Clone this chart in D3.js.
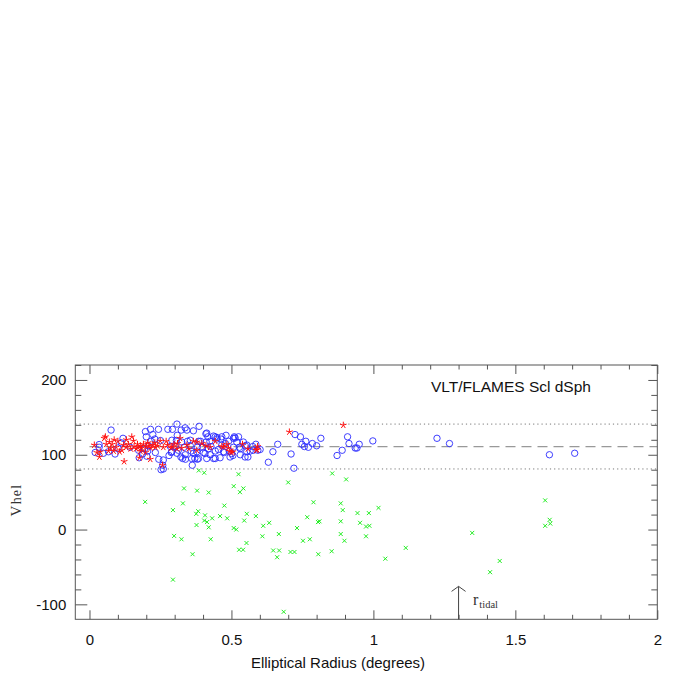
<!DOCTYPE html>
<html><head><meta charset="utf-8">
<script src="https://cdn.jsdelivr.net/npm/d3@7/dist/d3.min.js"></script>
<style>body{margin:0;background:#fff}svg{display:block}</style>
</head><body>
<script>
// ---------- data ----------
const xMajorTicks = [0, 0.5, 1, 1.5, 2];
const xTickLabels = ["0", "0.5", "1", "1.5", "2"];
const yMajorTicks = [-100, 0, 100, 200];
const yTickLabels = ["-100", "0", "100", "200"];
const dottedLevels = [141, 81];
const dashedLevel = [111];
const tidalRadius = [1.3];

const blueR = [0.076,0.02,0.034,0.049,0.067,0.09,0.118,0.1,0.112,0.143,0.175,0.197,0.2,0.215,0.223,0.243,0.23,0.25,0.217,0.208,0.205,0.232,0.244,0.26,0.258,0.252,0.28,0.276,0.292,0.308,0.323,0.309,0.306,0.302,0.285,0.288,0.308,0.322,0.338,0.333,0.345,0.355,0.358,0.366,0.371,0.38,0.38,0.391,0.397,0.401,0.413,0.417,0.411,0.424,0.428,0.443,0.443,0.449,0.463,0.466,0.479,0.49,0.492,0.507,0.519,0.507,0.525,0.528,0.542,0.549,0.558,0.554,0.566,0.575,0.586,0.593,0.26,0.202,0.187,0.194,0.173,0.343,0.366,0.386,0.425,0.46,0.475,0.505,0.531,0.337,0.362,0.495,0.437,0.413,0.328,0.034,0.437,0.466,0.51,0.41,
  0.443,0.449,0.481,0.513,0.355,0.384,0.419,0.454,0.554,0.577,0.548,0.384,0.36,0.337,0.313,0.29,0.378,0.407,0.472,0.501,0.531,0.325,0.29,
  0.601,0.646,0.663,0.63,0.71,0.72,0.724,0.743,0.762,0.748,0.757,0.771,0.785,0.8,0.815,0.872,0.89,0.909,0.914,0.936,0.942,0.95,0.998,1.224,1.268,1.62,1.709];
const blueV = [133,103,110,102,104,101,122,109,116,110,96,131,124,134,127,134,121,119,118,112,105,103,94,93,86,80,99,134,134,141,133,126,119,111,111,103,102,97,94,110,118,112,105,102,95,94,110,118,110,103,129,124,117,118,111,105,95,123,121,113,115,118,105,110,117,122,124,110,117,112,97,104,105,111,114,106,81,98,101,108,106,133,132,138,100,96,103,99,100,136,86,97,95,95,95,113.6,125,124,124,128,
  124,121,126,122.5,119.4,118,108,107,113,106,97,95,95,100,106,104,104,101.6,104,101.6,108,117,119.4,
  107,104,114,90,101,82,127,124,118,114,111,110,115,112,122,99,106,124,115,109,109,114,118.5,122,115,100,102];

const redR = [0.017,0.026,0.035,0.052,0.059,0.056,0.07,0.075,0.067,0.08,0.085,0.087,0.094,0.106,0.114,0.12,0.122,0.129,0.137,0.149,0.155,0.157,0.164,0.169,0.179,0.184,0.19,0.2,0.21,0.216,0.223,0.232,0.24,0.176,0.214,0.249,0.26,0.275,0.287,0.298,0.319,0.325,0.343,0.366,0.378,0.396,0.425,0.443,0.466,0.484,0.489,0.505,0.539,0.558,0.587,0.179,0.197,0.038,0.257,0.59,0.704,0.894,0.592,0.5,0.1,0.13,0.145,0.17,0.205,0.23,0.27,0.31,0.35,0.41,0.378,0.472,0.495,0.29,0.308];
const redV = [113,103,97,122,114,124,117,109,105,114,105,120,110,104,106,113,91,110,114,124,118.5,111,108,114,112,109,114,111,112,109,113,110,112,96,94,118.5,110,113,109,114,122,109,113,118,106,115,110,118,111,114,109,104,114,108,106,105,103,104,86,107,130.5,139.5,111,103,118,120,108,110,116,116,118,115,108,112,117,110.6,104.7,110.6,108];

const greenR = [0.196,0.294,0.329,0.333,0.379,0.42,0.385,0.404,0.376,0.383,0.377,0.407,0.404,0.414,0.42,0.432,0.298,0.324,0.427,0.363,0.294,0.46,0.475,0.485,0.508,0.53,0.542,0.525,0.508,0.517,0.545,0.554,0.586,0.553,0.527,0.541,0.609,0.612,0.633,0.667,0.647,0.668,0.661,0.7,0.731,0.708,0.722,0.767,0.789,0.805,0.81,0.752,0.776,0.806,0.853,0.855,0.904,0.885,0.892,0.885,0.885,0.898,0.684,0.944,0.953,0.974,0.986,0.984,0.974,1.018,1.042,1.114,1.348,1.411,1.445,1.605,1.605,1.621,1.623];
const greenV = [37,26,35,55,52,49.5,79,76,21,24.5,6,19,12,10,3,15,-8.5,-13,-13,-33,-67,18,32,15,58,50,55,74,2,0,12,21,18,-18,-27,-27,-9,5,9,-6,-28,-28,-37,63,2,-30,-30,16.5,36.5,10,11,-15,-13,-33,-29,75,67,35,26,11,-6,-15,-110,22,9,4,5,22,-9,29,-39,-24.5,-4.5,-57,-42,39,5,13,8];

// ---------- layout ----------
const W = 694, H = 694;
const L = 75.3, R = 657.3, T = 365, B = 619.3;
const svg = d3.select("body").append("svg").attr("width", W).attr("height", H);
const x = d3.scaleLinear().domain([-0.05, 2.0]).range([L, R]);
const y = d3.scaleLinear().domain([-120, 220]).range([B, T]);
const frameCol = "#555";
const font = "'Liberation Sans', Arial, Helvetica, sans-serif";
const serif = "'Liberation Serif', 'DejaVu Serif', Times, serif";

// reference lines
const g = svg.append("g");
g.selectAll("line.dot").data(dottedLevels).join("line")
  .attr("x1", L).attr("x2", R).attr("y1", d => y(d)).attr("y2", d => y(d))
  .attr("stroke", "#777").attr("stroke-width", 1).attr("stroke-dasharray", "1.2,3");
g.selectAll("line.dash").data(dashedLevel).join("line")
  .attr("x1", x(0)).attr("x2", R).attr("y1", d => y(d)).attr("y2", d => y(d))
  .attr("stroke", "#999").attr("stroke-width", 1.2).attr("stroke-dasharray", "10,6");

// points
const blue = blueR.map((r, i) => ({r, v: blueV[i]}));
const red = redR.map((r, i) => ({r, v: redV[i]}));
const green = greenR.map((r, i) => ({r, v: greenV[i]}));

svg.append("g").selectAll("circle").data(blue).join("circle")
  .attr("cx", d => x(d.r)).attr("cy", d => y(d.v)).attr("r", 3.2)
  .attr("fill", "none").attr("stroke", "#2a2aff").attr("stroke-width", 0.9);

const star = (s) => {
  let p = "";
  for (let k = 0; k < 5; k++) {
    const a = -Math.PI / 2 + k * 2 * Math.PI / 5;
    p += `M0,0L${(s * Math.cos(a)).toFixed(2)},${(s * Math.sin(a)).toFixed(2)}`;
  }
  return p;
};
svg.append("g").selectAll("path").data(red).join("path")
  .attr("transform", d => `translate(${x(d.r)},${y(d.v)})`)
  .attr("d", star(3.5)).attr("fill", "none").attr("stroke", "#ff1010").attr("stroke-width", 1);

svg.append("g").selectAll("path").data(green).join("path")
  .attr("transform", d => `translate(${x(d.r)},${y(d.v)})`)
  .attr("d", "M-2,-2L2,2M-2,2L2,-2").attr("fill", "none").attr("stroke", "#22ee22").attr("stroke-width", 1);

// frame
svg.append("rect").attr("x", L).attr("y", T).attr("width", R - L).attr("height", B - T)
  .attr("fill", "none").attr("stroke", frameCol).attr("stroke-width", 1);

// axes
const xMinor = d3.range(0, 2.0001, 0.1).map(v => +v.toFixed(2)).filter(v => !xMajorTicks.includes(v));
const yMinor = d3.range(-100, 220.1, 20).filter(v => !yMajorTicks.includes(v));
function styleAxis(sel) {
  sel.select(".domain").remove();
  sel.selectAll("line").attr("stroke", frameCol);
  sel.selectAll("text").attr("font-family", font).attr("font-size", 15).attr("fill", "#111");
}
svg.append("g").attr("transform", `translate(0,${B})`)
  .call(d3.axisBottom(x).tickValues(xMajorTicks).tickSize(-9).tickPadding(15).tickFormat((d, i) => xTickLabels[i])).call(styleAxis);
svg.append("g").attr("transform", `translate(0,${B})`)
  .call(d3.axisBottom(x).tickValues(xMinor).tickSize(-4.5).tickFormat("")).call(styleAxis);
svg.append("g").attr("transform", `translate(0,${T})`)
  .call(d3.axisTop(x).tickValues(xMajorTicks).tickSize(-9).tickFormat("")).call(styleAxis);
svg.append("g").attr("transform", `translate(0,${T})`)
  .call(d3.axisTop(x).tickValues(xMinor).tickSize(-4.5).tickFormat("")).call(styleAxis);
svg.append("g").attr("transform", `translate(${L},0)`)
  .call(d3.axisLeft(y).tickValues(yMajorTicks).tickSize(-12).tickPadding(9).tickFormat((d, i) => yTickLabels[i])).call(styleAxis);
svg.append("g").attr("transform", `translate(${L},0)`)
  .call(d3.axisLeft(y).tickValues(yMinor).tickSize(-6).tickFormat("")).call(styleAxis);
svg.append("g").attr("transform", `translate(${R},0)`)
  .call(d3.axisRight(y).tickValues(yMajorTicks).tickSize(-9).tickFormat("")).call(styleAxis);
svg.append("g").attr("transform", `translate(${R},0)`)
  .call(d3.axisRight(y).tickValues(yMinor).tickSize(-6).tickFormat("")).call(styleAxis);

// titles
svg.append("text").attr("x", 338).attr("y", 668).attr("text-anchor", "middle")
  .attr("font-family", font).attr("font-size", 15).attr("fill", "#111").text("Elliptical Radius (degrees)");
const yl = svg.append("text").attr("transform", "translate(21,500) rotate(-90)").attr("text-anchor", "middle")
  .attr("font-family", serif).attr("font-size", 15).attr("fill", "#333").attr("letter-spacing", 1.2);
yl.append("tspan").text("V");
yl.append("tspan").attr("font-size", 14).text("hel");
svg.append("text").attr("x", 431).attr("y", 392)
  .attr("font-family", font).attr("font-size", 15.5).attr("fill", "#111").text("VLT/FLAMES Scl dSph");

// tidal radius arrow
const tx = x(tidalRadius[0]);
const tipY = y(-76);
svg.append("line").attr("x1", tx).attr("x2", tx).attr("y1", B).attr("y2", tipY).attr("stroke", "#444").attr("stroke-width", 1);
svg.append("path").attr("d", `M${tx - 7},${tipY + 5}L${tx},${tipY}L${tx + 7},${tipY + 5}`)
  .attr("fill", "none").attr("stroke", "#444").attr("stroke-width", 1);
const rt = svg.append("text").attr("x", 473).attr("y", 605).attr("font-family", serif).attr("fill", "#333");
rt.append("tspan").attr("font-size", 16).text("r");
rt.append("tspan").attr("font-size", 10.5).attr("dy", 3).attr("dx", 1).text("tidal");
</script>
</body></html>
